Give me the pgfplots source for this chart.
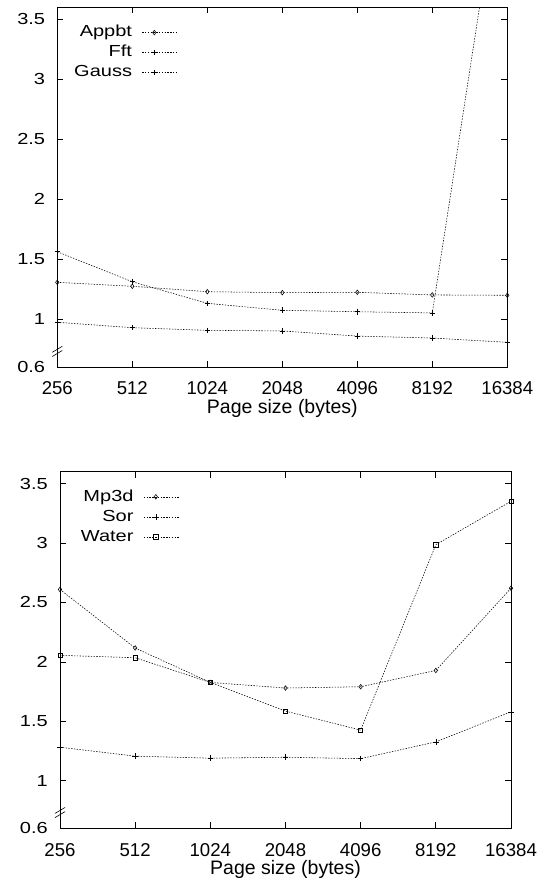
\documentclass[border=0pt]{standalone}
\usepackage{fontspec}
\setmainfont{Liberation Sans}
\newfontfamily\widefont{Liberation Sans}[FakeStretch=1.25]
\usepackage{pgfplots}
\pgfplotsset{compat=1.18}
\newcommand\xfont{\fontsize{18.6}{22}\selectfont}
\newcommand\lfont{\fontsize{19.5}{22}\selectfont}
\newcommand\yfont{\widefont\fontsize{16}{19}\selectfont}
\pgfplotsset{pagestyle/.style={
  scale only axis,
  xmin=0, xmax=6, ymin=0.6, ymax=3.6,
  xtick={0,1,2,3,4,5,6}, xticklabels={256,512,1024,2048,4096,8192,16384},
  ytick={0.6,1,1.5,2,2.5,3,3.5}, yticklabels={0.6,1,1.5,2,2.5,3,3.5},
  tick align=inside, major tick length=6pt, tick pos=both,
  axis line style={line width=0.9pt},
  every tick/.style={line width=0.7pt, black},
  xlabel={Page size (bytes)},
  xticklabel style={font=\xfont, anchor=base, inner sep=0pt, yshift=-27.7pt},
  yticklabel style={font=\yfont, anchor=east, inner sep=0pt, xshift=-12pt},
  xlabel style={font=\lfont, at={(axis description cs:0.5,0)}, anchor=base, inner sep=0pt, yshift=-46.2pt},
  clip mode=individual,
  legend plot pos=right,
  legend cell align=right,
  legend style={draw=none, fill=none, inner sep=0pt, row sep=0.5pt,
    font=\yfont, nodes={inner sep=2pt, text height=12pt, text depth=3.5pt}},
  legend image code/.code={\path (0pt,0pt) -- (0pt,0pt); \draw[mark repeat=2,mark phase=2,##1] plot coordinates {(8pt,0pt) (20pt,0pt) (44pt,0pt)};},
}}
\tikzset{ser/.style={black, line width=0.55pt, dash pattern=on 1.4pt off 1.4pt,
    mark options={solid, line width=0.55pt, fill=white}}}
\begin{document}
\begin{tikzpicture}
\begin{axis}[pagestyle, width=450pt, height=360pt, at={(57.3pt,510.7pt)}, anchor=south west,
  legend style={at={(axis description cs:0.0327,0.9575)}, anchor=north west}]
\addplot[ser, mark=diamond, mark size=2.3pt] coordinates {(0,1.308) (1,1.275) (2,1.23) (3,1.222) (4,1.225) (5,1.203) (6,1.2)};
\addlegendentry{Appbt}
\addplot[ser, mark=+, mark size=2.8pt] coordinates {(0,1.563) (1,1.313) (2,1.133) (3,1.075) (4,1.063) (5,1.053) (6,5.1)};
\addlegendentry{Fft}
\addplot[ser, mark=+, mark size=2.8pt] coordinates {(0,0.975) (1,0.93) (2,0.908) (3,0.903) (4,0.86) (5,0.844) (6,0.808)};
\addlegendentry{Gauss}
\draw[line width=0.6pt] ([xshift=-5pt]axis cs:0,0.69) -- ([xshift=5pt]axis cs:0,0.74);
\draw[line width=0.6pt] ([xshift=-5pt]axis cs:0,0.725) -- ([xshift=5pt]axis cs:0,0.775);
\end{axis}
\begin{axis}[pagestyle, width=451pt, height=356.6pt, at={(60pt,49.7pt)}, anchor=south west,
  legend style={at={(axis description cs:0.0415,0.9575)}, anchor=north west}]
\addplot[ser, mark=diamond, mark size=2.3pt] coordinates {(0,2.609) (1,2.117) (2,1.827) (3,1.78) (4,1.791) (5,1.928) (6,2.62)};
\addlegendentry{Mp3d}
\addplot[ser, mark=+, mark size=2.8pt] coordinates {(0,1.282) (1,1.207) (2,1.19) (3,1.198) (4,1.186) (5,1.327) (6,1.58)};
\addlegendentry{Sor}
\addplot[ser, mark=square, mark size=2.1pt] coordinates {(0,2.055) (1,2.035) (2,1.827) (3,1.586) (4,1.426) (5,2.986) (6,3.351)};
\addlegendentry{Water}
\draw[line width=0.6pt] ([xshift=-5pt]axis cs:0,0.69) -- ([xshift=5pt]axis cs:0,0.74);
\draw[line width=0.6pt] ([xshift=-5pt]axis cs:0,0.725) -- ([xshift=5pt]axis cs:0,0.775);
\end{axis}
\pgfresetboundingbox
\path (0pt,0pt) rectangle (542pt,878pt);
\end{tikzpicture}
\end{document}
